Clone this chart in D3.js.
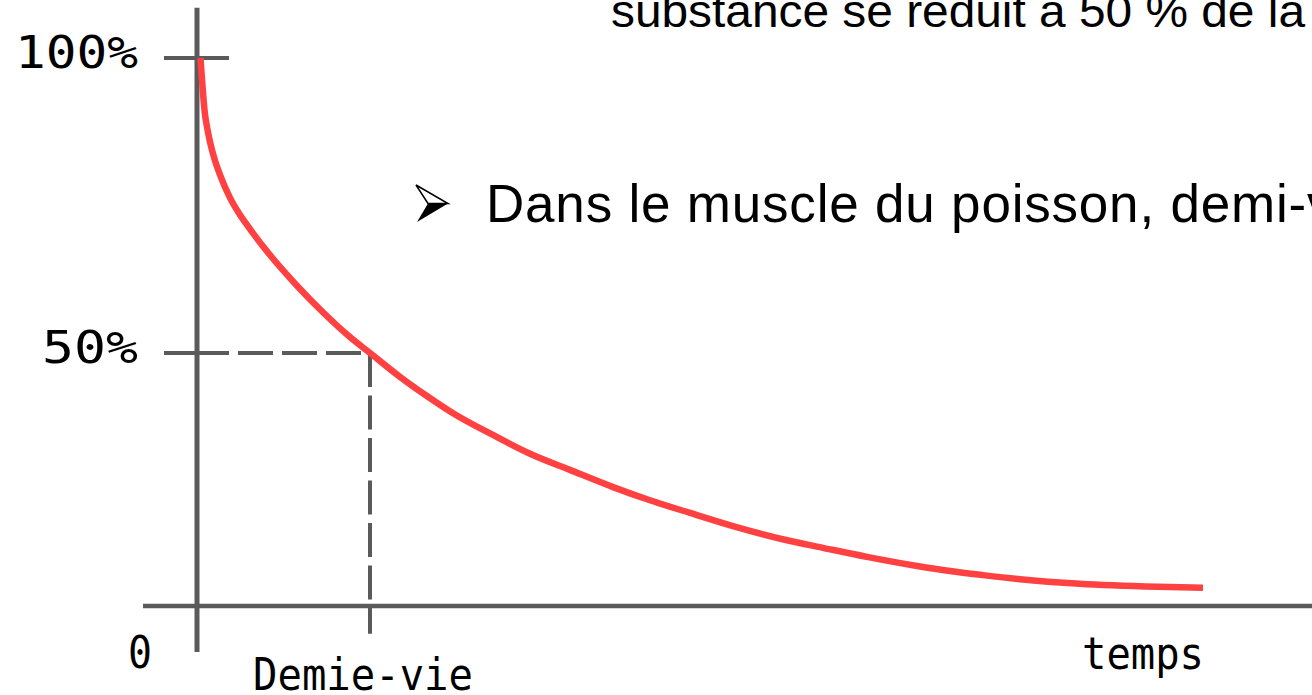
<!DOCTYPE html>
<html lang="fr">
<head>
  <meta charset="utf-8">
  <script src="https://cdn.jsdelivr.net/npm/d3@7"></script>
  <style>
    body { margin: 0; background: #fff; }
    svg { display: block; }
    .pix { font-family: "DejaVu Sans Mono", monospace; font-size: 44px; fill: #000; }
    .slide { font-family: "Liberation Sans", Arial, sans-serif; fill: #000; }
  </style>
</head>
<body>
  <script>
    // time in half-lives, remaining amount in percent
    const timeValues = [0.02, 0.029, 0.038, 0.046, 0.058, 0.075, 0.098, 0.133, 0.191, 0.249, 0.289, 0.422, 0.578,
                        0.728, 0.884, 1.00, 1.173, 1.329, 1.48, 1.711, 1.925, 2.156, 2.405, 2.618, 2.85, 3.098,
                        3.41, 3.618, 3.873, 4.162, 4.353, 4.543, 4.757, 5.104, 5.555, 5.815];
    const percentValues = [100, 96.3, 92.9, 90.5, 88.3, 85.8, 83.2, 80.2, 76.3, 73.4, 71.7, 66.6, 61.4,
                           56.9, 52.7, 50, 45.3, 41.5, 38.1, 33.8, 30.1, 26.9, 23.5, 20.9, 18.4, 15.8,
                           13.0, 11.5, 9.7, 7.9, 6.9, 6.1, 5.3, 4.4, 3.8, 3.6];
    const yTicks = [100, 50];
    const yTickLabels = ["100%", "50%"];
    const halfLife = 1;
    const halfLifeLabel = "Demie-vie";
    const originLabel = "0";
    const xLabel = "temps";
    const textLine1 = "substance se réduit à 50 % de la";
    const textLine2 = "Dans le muscle du poisson, demi-vie";

    const w = 1312, h = 695;
    const axisColor = "#5a5a5a";

    const x = d3.scaleLinear().domain([0, 1]).range([197, 370]);
    const y = d3.scaleLinear().domain([0, 50, 100]).range([606, 353, 58]);

    const svg = d3.select("body").append("svg")
      .attr("width", w).attr("height", h);

    // slide text behind the chart
    svg.append("text").attr("class", "slide")
      .attr("x", 611).attr("y", 27)
      .attr("font-size", 46)
      .attr("textLength", 694).attr("lengthAdjust", "spacingAndGlyphs")
      .text(textLine1);

    const bullet = svg.append("g").attr("transform", "translate(416,185)");
    bullet.append("path").attr("d", "M0,0 L32,18.5 L12,18.5 Z")
      .attr("fill", "#fff").attr("stroke", "#000").attr("stroke-width", 1.5).attr("stroke-linejoin", "miter");
    bullet.append("path").attr("d", "M12,18.5 L32,18.5 L1,37 Z").attr("fill", "#000");

    svg.append("text").attr("class", "slide")
      .attr("x", 486).attr("y", 222)
      .attr("font-size", 53)
      .attr("letter-spacing", 0.8)
      .text(textLine2);

    // axes
    svg.append("line")
      .attr("x1", x(0)).attr("x2", x(0))
      .attr("y1", y(108.5)).attr("y2", y(-9.1))
      .attr("stroke", axisColor).attr("stroke-width", 5);

    svg.append("line")
      .attr("x1", x(-0.312)).attr("x2", w)
      .attr("y1", y(0)).attr("y2", y(0))
      .attr("stroke", axisColor).attr("stroke-width", 4.5);

    // y ticks
    svg.append("line")
      .attr("x1", x(0) - 33).attr("x2", x(0) + 32)
      .attr("y1", y(100)).attr("y2", y(100))
      .attr("stroke", axisColor).attr("stroke-width", 4);
    svg.append("line")
      .attr("x1", x(0) - 33).attr("x2", x(0))
      .attr("y1", y(50)).attr("y2", y(50))
      .attr("stroke", axisColor).attr("stroke-width", 4);

    // half-life guides
    svg.append("line")
      .attr("x1", x(halfLife)).attr("x2", x(0))
      .attr("y1", y(50)).attr("y2", y(50))
      .attr("stroke", axisColor).attr("stroke-width", 4)
      .attr("stroke-dasharray", "35,9").attr("stroke-dashoffset", 35);
    svg.append("line")
      .attr("x1", x(halfLife)).attr("x2", x(halfLife))
      .attr("y1", y(50)).attr("y2", y(-5.5))
      .attr("stroke", axisColor).attr("stroke-width", 4)
      .attr("stroke-dasharray", "34,8.5");

    // decay curve
    const line = d3.line()
      .x((d, i) => x(timeValues[i]))
      .y(d => y(d))
      .curve(d3.curveMonotoneX);

    svg.append("path")
      .datum(percentValues)
      .attr("d", line)
      .attr("fill", "none")
      .attr("stroke", "#ff4141")
      .attr("stroke-width", 6.5);

    // labels, pixel-font style
    const tickWidths = [123, 96];
    svg.selectAll(".ytick")
      .data(yTicks)
      .enter()
      .append("text")
      .attr("class", "pix ytick")
      .attr("x", (d, i) => 138 - tickWidths[i])
      .attr("y", d => y(d) + 10)
      .attr("textLength", (d, i) => tickWidths[i])
      .attr("lengthAdjust", "spacingAndGlyphs")
      .text((d, i) => yTickLabels[i]);

    svg.append("text").attr("class", "pix")
      .attr("x", 128).attr("y", y(0) + 62)
      .attr("textLength", 24).attr("lengthAdjust", "spacingAndGlyphs")
      .text(originLabel);

    svg.append("text").attr("class", "pix")
      .attr("x", x(halfLife) - 117).attr("y", y(0) + 84)
      .attr("textLength", 220).attr("lengthAdjust", "spacingAndGlyphs")
      .text(halfLifeLabel);

    svg.append("text").attr("class", "pix")
      .attr("x", 1082).attr("y", y(0) + 63)
      .attr("textLength", 122).attr("lengthAdjust", "spacingAndGlyphs")
      .text(xLabel);
  </script>
</body>
</html>
